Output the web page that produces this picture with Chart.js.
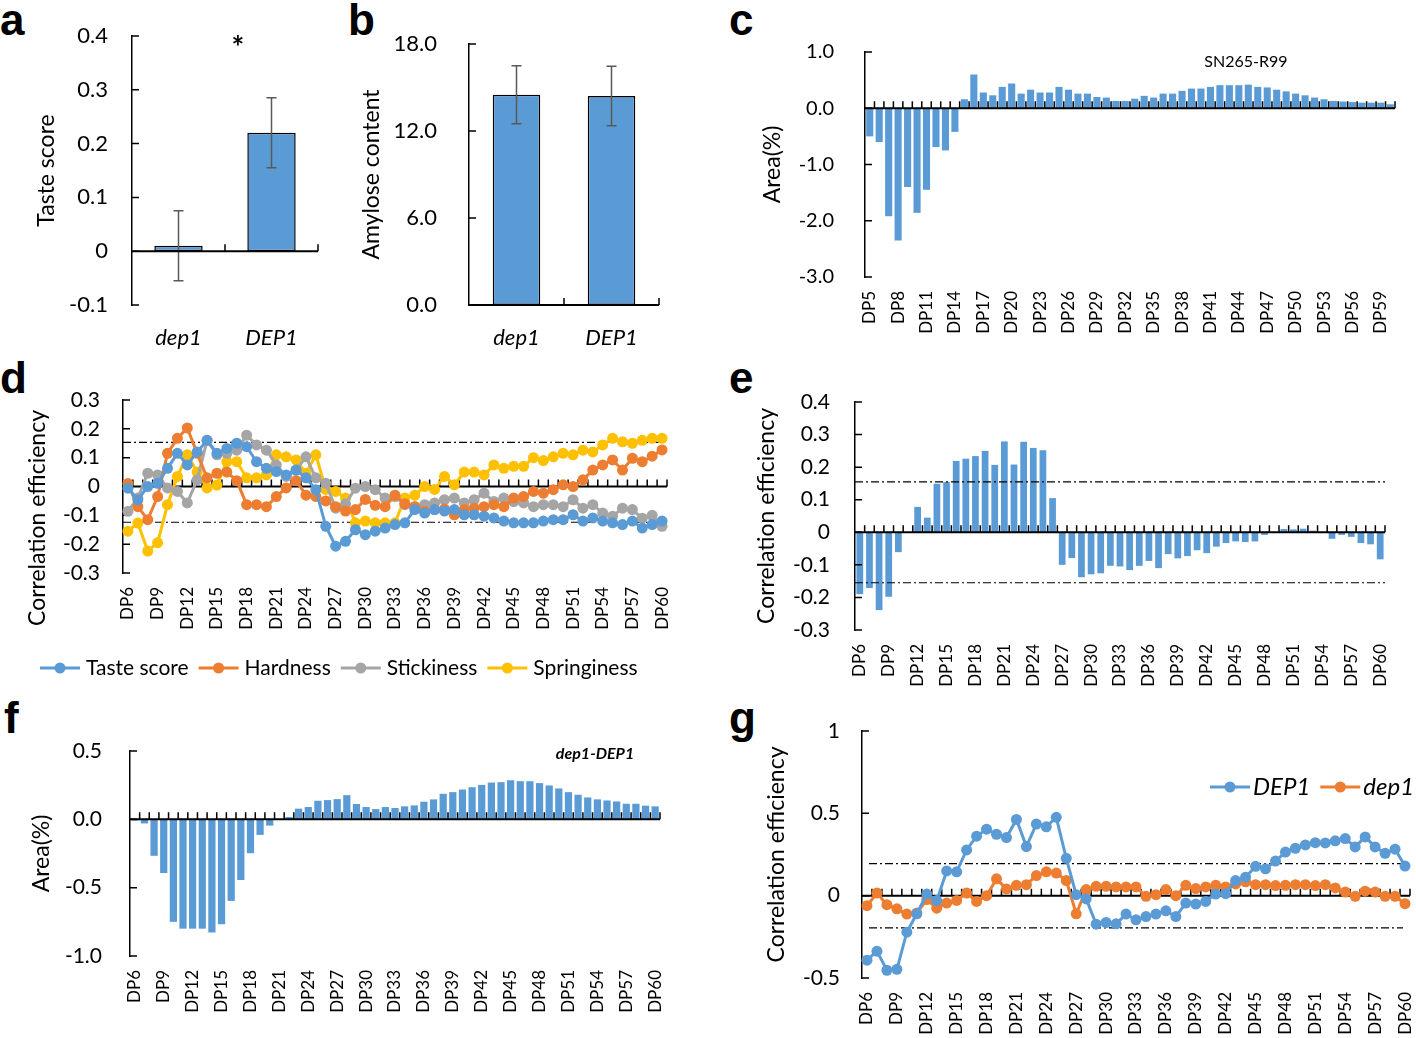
<!DOCTYPE html>
<html>
<head>
<meta charset="utf-8">
<title>dep1 / DEP1 - taste, amylose and correlation panels</title>
<script src="https://cdn.jsdelivr.net/npm/chart.js@4.4.1/dist/chart.umd.min.js"></script>
<style>
  html, body { margin: 0; padding: 0; background: #fff; }
  body { position: relative; width: 1416px; height: 1038px; overflow: hidden;
         font-family: Lato, "Liberation Sans", sans-serif; color: #000; }
  .box { position: absolute; }
  .letter { position: absolute; font: bold 44px "Liberation Sans", Arial, sans-serif; line-height: 44px; }
  .note { position: absolute; white-space: nowrap; transform: translate(-50%, -50%); }
</style>
</head>
<body>

<div class="letter" style="left:0px;top:-2px">a</div>
<div class="letter" style="left:348px;top:-2px">b</div>
<div class="letter" style="left:729px;top:-2px">c</div>
<div class="letter" style="left:0px;top:356px">d</div>
<div class="letter" style="left:729px;top:356px">e</div>
<div class="letter" style="left:4px;top:696px">f</div>
<div class="letter" style="left:729px;top:696px">g</div>

<div class="box" style="left:25px;top:20px;width:310px;height:345px"><canvas id="chartA"></canvas></div>
<div class="box" style="left:355px;top:20px;width:320px;height:345px"><canvas id="chartB"></canvas></div>
<div class="box" style="left:752px;top:35px;width:660px;height:305px"><canvas id="chartC"></canvas></div>
<div class="box" style="left:20px;top:384px;width:660px;height:306px"><canvas id="chartD"></canvas></div>
<div class="box" style="left:745px;top:385px;width:665px;height:305px"><canvas id="chartE"></canvas></div>
<div class="box" style="left:20px;top:730px;width:660px;height:300px"><canvas id="chartF"></canvas></div>
<div class="box" style="left:745px;top:714px;width:671px;height:324px"><canvas id="chartG"></canvas></div>

<div class="note" style="left:238px;top:46px;font-weight:bold;font-size:30px">*</div>
<div class="note" style="left:1246px;top:60px;font-size:16px">SN265-R99</div>
<div class="note" style="left:595px;top:752px;font-size:16px;font-style:italic;font-weight:bold">dep1-DEP1</div>

<script>
/* ---------- datos ---------- */
const groups = ['dep1', 'DEP1'];
const tasteScore = [0.01, 0.22];
const tasteErr = [0.065, 0.065];
const amylose = [14.5, 14.42];
const amyloseErr = [2.0, 2.05];

// categorias DP5..DP60 (panel c) y DP6..DP60 (paneles d-g)
const dpFrom5 = Array.from({ length: 56 }, (_, i) => 'DP' + (i + 5));
const dpFrom6 = Array.from({ length: 55 }, (_, i) => 'DP' + (i + 6));

// panel c: SN265-R99
const areaSN265 = [-0.5, -0.6, -1.92, -2.35, -1.4, -1.86, -1.45, -0.69, -0.75, -0.42,
  0.16, 0.6, 0.28, 0.23, 0.38, 0.44, 0.26, 0.33, 0.28, 0.28,
  0.38, 0.33, 0.26, 0.26, 0.2, 0.19, 0.13, 0.13, 0.17, 0.22,
  0.19, 0.26, 0.26, 0.31, 0.35, 0.35, 0.38, 0.41, 0.41, 0.41,
  0.42, 0.38, 0.37, 0.33, 0.3, 0.26, 0.23, 0.19, 0.16, 0.13,
  0.12, 0.11, 0.1, 0.1, 0.1, 0.07];

// panel d: correlaciones por rasgo
const corrTaste = [-0.006, -0.046, 0, 0.011, 0.063, 0.115, 0.075, 0.12, 0.16, 0.115,
  0.132, 0.15, 0.138, 0.086, 0.063, 0.052, 0.04, 0.057, 0.03, -0.011,
  -0.138, -0.207, -0.19, -0.15, -0.167, -0.155, -0.144, -0.132, -0.126, -0.08,
  -0.092, -0.08, -0.085, -0.08, -0.098, -0.098, -0.103, -0.109, -0.12, -0.126,
  -0.126, -0.126, -0.12, -0.115, -0.115, -0.098, -0.12, -0.109, -0.12, -0.126,
  -0.132, -0.12, -0.144, -0.132, -0.12];
const corrHardness = [0.01, -0.07, -0.115, -0.035, 0.115, 0.167, 0.203, 0.115, 0.03, 0.046,
  0.05, 0.02, -0.063, -0.063, -0.07, -0.035, -0.005, 0.02, -0.03, -0.035,
  -0.05, -0.07, -0.085, -0.08, -0.045, -0.065, -0.07, -0.03, -0.06, -0.07,
  -0.086, -0.08, -0.078, -0.098, -0.08, -0.075, -0.07, -0.063, -0.07, -0.04,
  -0.035, -0.017, -0.023, -0.011, 0.006, 0, 0.023, 0.057, 0.075, 0.092,
  0.057, 0.098, 0.086, 0.105, 0.127];
const corrStickiness = [-0.086, -0.04, 0.046, 0.04, -0.005, -0.017, -0.057, 0.023, 0.16, 0.11,
  0.115, 0.126, 0.178, 0.144, 0.126, 0.075, 0.035, 0.057, 0.103, 0.03,
  0.011, -0.075, -0.06, -0.006, 0, -0.011, -0.04, -0.035, -0.063, -0.07,
  -0.063, -0.057, -0.046, -0.04, -0.057, -0.046, -0.023, -0.052, -0.04, -0.052,
  -0.057, -0.07, -0.063, -0.063, -0.07, -0.046, -0.075, -0.063, -0.092, -0.103,
  -0.075, -0.08, -0.11, -0.1, -0.138];
const corrSpringiness = [-0.155, -0.127, -0.224, -0.195, -0.063, 0.035, 0.11, 0.05, -0.005, 0.005,
  0.086, 0.086, 0.03, 0.03, 0.04, 0.11, 0.103, 0.092, 0.046, 0.11,
  -0.01, -0.017, -0.04, -0.126, -0.12, -0.126, -0.126, -0.126, -0.04, -0.03,
  0, -0.01, 0.035, 0.006, 0.05, 0.05, 0.04, 0.075, 0.063, 0.07,
  0.07, 0.1, 0.09, 0.103, 0.115, 0.11, 0.126, 0.12, 0.144, 0.167,
  0.155, 0.15, 0.16, 0.167, 0.167];
const thresholdD = [0.153, -0.124];

// panel e
const corrE = [-0.19, -0.171, -0.239, -0.198, -0.061, 0, 0.078, 0.045, 0.149, 0.154,
  0.219, 0.226, 0.234, 0.25, 0.207, 0.279, 0.208, 0.278, 0.259, 0.252,
  0.105, -0.1, -0.079, -0.138, -0.129, -0.126, -0.103, -0.105, -0.116, -0.103,
  -0.088, -0.11, -0.067, -0.08, -0.073, -0.055, -0.064, -0.044, -0.033, -0.028,
  -0.03, -0.028, -0.008, 0, 0.01, 0.009, 0.011, 0.005, 0, -0.02,
  -0.008, -0.014, -0.033, -0.037, -0.083];
const thresholdE = [0.155, -0.155];

// panel f: dep1-DEP1
const areaDiff = [-0.01, -0.03, -0.267, -0.393, -0.75, -0.8, -0.8, -0.8, -0.828, -0.767,
  -0.597, -0.444, -0.248, -0.114, -0.046, 0, 0.017, 0.078, 0.09, 0.136,
  0.141, 0.148, 0.177, 0.112, 0.09, 0.075, 0.09, 0.083, 0.095, 0.102,
  0.129, 0.146, 0.187, 0.199, 0.218, 0.235, 0.252, 0.269, 0.272, 0.286,
  0.279, 0.279, 0.265, 0.248, 0.226, 0.199, 0.18, 0.16, 0.146, 0.138,
  0.131, 0.114, 0.114, 0.1, 0.095];

// panel g
const corrDEP1 = [-0.392, -0.337, -0.453, -0.447, -0.222, -0.11, 0.01, -0.03, 0.15, 0.145,
  0.278, 0.361, 0.404, 0.373, 0.353, 0.463, 0.298, 0.435, 0.418, 0.476,
  0.227, 0.006, -0.02, -0.173, -0.163, -0.171, -0.112, -0.147, -0.127, -0.112,
  -0.092, -0.127, -0.045, -0.051, -0.035, 0.01, 0.012, 0.092, 0.112, 0.178,
  0.163, 0.21, 0.265, 0.288, 0.308, 0.322, 0.32, 0.333, 0.347, 0.296,
  0.357, 0.296, 0.257, 0.282, 0.18];
const corrDep1 = [-0.061, 0.016, -0.055, -0.08, -0.112, -0.106, -0.024, -0.076, -0.045, -0.029,
  0.016, -0.035, 0, 0.102, 0.041, 0.063, 0.067, 0.122, 0.145, 0.137,
  0.092, -0.11, 0.037, 0.057, 0.057, 0.053, 0.053, 0.053, -0.004, 0.006,
  0.037, 0, 0.063, 0.043, 0.053, 0.063, 0.053, 0.071, 0.084, 0.067,
  0.067, 0.061, 0.063, 0.067, 0.067, 0.061, 0.067, 0.047, 0.022, -0.004,
  0.027, 0.022, -0.004, -0.004, -0.049];
const thresholdG = [0.195, -0.195];

/* ---------- estilo ---------- */
const FONT = 'Lato, "Liberation Sans", sans-serif';
const BLUE = '#5B9BD5', ORANGE = '#ED7D31', GRAY = '#A5A5A5', GOLD = '#FFC000';
Chart.defaults.font.family = FONT;
Chart.defaults.color = '#000';

// Eje en cero, marcas hacia dentro y lineas de umbral
function drawAxes(chart, o) {
  const { ctx, chartArea: a, scales: { x, y } } = chart;
  ctx.save();
  (o.refLines || []).forEach(v => {
    const py = y.getPixelForValue(v);
    ctx.setLineDash([8, 3, 2, 3]);
    ctx.lineWidth = 1.2;
    ctx.strokeStyle = '#000';
    ctx.beginPath();
    ctx.moveTo(a.left + (o.refInset || 0), py);
    ctx.lineTo(a.right - (o.refInset || 0), py);
    ctx.stroke();
  });
  ctx.setLineDash([]);
  const y0 = y.getPixelForValue(0);
  const n = chart.data.labels.length;
  ctx.strokeStyle = '#000';
  ctx.lineWidth = 2;
  ctx.beginPath();
  ctx.moveTo(a.left, y0);
  ctx.lineTo(a.right, y0);
  ctx.stroke();
  ctx.lineWidth = 1.5;
  ctx.beginPath();
  for (let i = 1; i <= n; i++) {
    const bx = i < n ? (x.getPixelForValue(i - 1) + x.getPixelForValue(i)) / 2 : a.right;
    ctx.moveTo(bx, y0);
    ctx.lineTo(bx, y0 - 7);
  }
  y.ticks.forEach((t, i) => {
    const py = y.getPixelForTick(i);
    ctx.moveTo(a.left, py);
    ctx.lineTo(a.left + 7, py);
  });
  ctx.stroke();
  ctx.restore();
}

const deco = {
  id: 'deco',
  beforeDatasetsDraw(chart, args, o) {
    if (o.under) drawAxes(chart, o);
  },
  afterDatasetsDraw(chart, args, o) {
    const { ctx, scales: { y } } = chart;
    // barras de error
    chart.data.datasets.forEach((ds, di) => {
      if (!ds.errors) return;
      chart.getDatasetMeta(di).data.forEach((bar, i) => {
        const top = y.getPixelForValue(ds.data[i] + ds.errors[i]);
        const bot = y.getPixelForValue(ds.data[i] - ds.errors[i]);
        ctx.save();
        ctx.strokeStyle = '#595959';
        ctx.lineWidth = 1.5;
        ctx.beginPath();
        ctx.moveTo(bar.x, top); ctx.lineTo(bar.x, bot);
        ctx.moveTo(bar.x - 5, top); ctx.lineTo(bar.x + 5, top);
        ctx.moveTo(bar.x - 5, bot); ctx.lineTo(bar.x + 5, bot);
        ctx.stroke();
        ctx.restore();
      });
    });
    if (!o.under) drawAxes(chart, o);
  },
  afterDraw(chart, args, o) {
    const ctx = chart.ctx;
    // titulo del eje y dibujado a mano (panel d)
    if (o.yTitle) {
      ctx.save();
      ctx.translate(o.yTitle.x, o.yTitle.y);
      ctx.rotate(-Math.PI / 2);
      ctx.font = o.yTitle.size + 'px ' + FONT;
      ctx.textAlign = 'center';
      ctx.textBaseline = 'middle';
      ctx.fillStyle = '#000';
      ctx.fillText(o.yTitle.text, 0, 0);
      ctx.restore();
    }
    // leyenda con linea y marcador
    const lg = o.legend;
    if (!lg) return;
    ctx.save();
    ctx.font = (lg.italic ? 'italic ' : '') + lg.size + 'px ' + FONT;
    ctx.textBaseline = 'middle';
    let lx = lg.x;
    chart.data.datasets.forEach(ds => {
      ctx.strokeStyle = ds.borderColor;
      ctx.lineWidth = 3;
      ctx.beginPath();
      ctx.moveTo(lx, lg.y); ctx.lineTo(lx + lg.sym, lg.y);
      ctx.stroke();
      ctx.fillStyle = ds.borderColor;
      ctx.beginPath();
      ctx.arc(lx + lg.sym / 2, lg.y, 5.5, 0, Math.PI * 2);
      ctx.fill();
      ctx.fillStyle = '#000';
      ctx.fillText(ds.label, lx + lg.sym + lg.textGap, lg.y);
      lx += lg.sym + lg.textGap + ctx.measureText(ds.label).width + lg.gap;
    });
    ctx.restore();
  }
};
Chart.register(deco);

// etiquetas DP cada 3 categorias, giradas
function dpTicks() {
  return {
    autoSkip: false, minRotation: 90, maxRotation: 90, padding: 3,
    font: { size: 17 }, color: '#000',
    callback: function (v, i) { return i % 3 === 0 ? this.getLabelForValue(v) : ''; }
  };
}

// la separacion de las etiquetas va en tickLength (marcas ocultas);
// se anulan los paddings automaticos de las escalas para fijar el area del grafico
function panelOptions(p) {
  return {
    responsive: true, maintainAspectRatio: false, animation: false,
    layout: { autoPadding: false, padding: { top: p.padTop, right: p.padRight, left: 0, bottom: 0 } },
    plugins: { legend: { display: false }, tooltip: { enabled: false }, deco: p.deco || {} },
    scales: {
      x: {
        offset: true,
        grid: { display: false, drawTicks: true, tickLength: (p.xPad || 14) - 3 },
        border: { display: false },
        ticks: p.xTicks || dpTicks(),
        afterFit: s => { s.height = p.xHeight; s.paddingLeft = 0; s.paddingRight = 0; }
      },
      y: {
        min: p.yMin, max: p.yMax,
        grid: { display: false, drawTicks: true, tickLength: p.yPad - 3 },
        border: { display: true, color: '#000', width: 1.5 },
        ticks: { stepSize: p.step, padding: 3, autoSkip: false, font: { size: p.tickSize || 21 }, color: '#000',
                 callback: p.yFmt || (v => +v.toFixed(2) + '') },
        title: { display: !!p.yTitle, text: p.yTitle, font: { size: 23 }, color: '#000',
                 padding: { top: p.titlePad || 4, bottom: 0 } },
        afterFit: s => { s.width = p.yWidth; s.paddingTop = 0; s.paddingBottom = 0; }
      }
    }
  };
}

function barSet(values, pct) {
  return { data: values, backgroundColor: BLUE, borderWidth: 0,
           barPercentage: pct, categoryPercentage: 1 };
}
function lineSet(label, values, color, r) {
  return { label: label, data: values, borderColor: color, backgroundColor: color,
           borderWidth: 3, pointRadius: r, pointBorderWidth: 0, tension: 0 };
}
const groupTicks = { padding: 3, font: { size: 22, style: 'italic' }, color: '#000' };

/* ---------- a: taste score ---------- */
new Chart(document.getElementById('chartA'), {
  type: 'bar',
  data: { labels: groups, datasets: [{ data: tasteScore, errors: tasteErr, backgroundColor: BLUE,
          borderColor: '#000', borderWidth: 1.5, borderSkipped: false,
          barPercentage: 0.52, categoryPercentage: 1 }] },
  options: panelOptions({ padTop: 16, padRight: 17, yWidth: 107, xHeight: 60, xPad: 20,
    yMin: -0.1, yMax: 0.4, step: 0.1, yPad: 24, tickSize: 22, yTitle: 'Taste score', titlePad: 8,
    xTicks: groupTicks })
});

/* ---------- b: amylose ---------- */
new Chart(document.getElementById('chartB'), {
  type: 'bar',
  data: { labels: groups, datasets: [{ data: amylose, errors: amyloseErr, backgroundColor: BLUE,
          borderColor: '#000', borderWidth: 1.5, borderSkipped: false,
          barPercentage: 0.5, categoryPercentage: 1 }] },
  options: panelOptions({ padTop: 24, padRight: 16, yWidth: 114, xHeight: 60, xPad: 20,
    yMin: 0, yMax: 18, step: 6, yPad: 32, tickSize: 22, yFmt: v => v.toFixed(1),
    yTitle: 'Amylose content', titlePad: 3, xTicks: groupTicks })
});

/* ---------- c: SN265-R99 ---------- */
new Chart(document.getElementById('chartC'), {
  type: 'bar',
  data: { labels: dpFrom5, datasets: [barSet(areaSN265, 0.75)] },
  options: panelOptions({ padTop: 17, padRight: 17, yWidth: 113, xHeight: 63,
    yMin: -3, yMax: 1, step: 1, yPad: 31, tickSize: 20, yFmt: v => v.toFixed(1),
    yTitle: 'Area(%)', titlePad: 7 })
});

/* ---------- d: correlacion por rasgo ---------- */
new Chart(document.getElementById('chartD'), {
  type: 'line',
  data: { labels: dpFrom6, datasets: [
    lineSet('Taste score', corrTaste, BLUE, 5.5),
    lineSet('Hardness', corrHardness, ORANGE, 5.5),
    lineSet('Stickiness', corrStickiness, GRAY, 5.5),
    lineSet('Springiness', corrSpringiness, GOLD, 5.5)
  ] },
  options: panelOptions({ padTop: 16, padRight: 13, yWidth: 103, xHeight: 117,
    yMin: -0.3, yMax: 0.3, step: 0.1, yPad: 23,
    deco: { under: true, refLines: thresholdD,
            yTitle: { text: 'Correlation efficiency', x: 18, y: 134, size: 23 },
            legend: { x: 20, y: 284, sym: 40, textGap: 6, gap: 10, size: 21 } } })
});

/* ---------- e ---------- */
new Chart(document.getElementById('chartE'), {
  type: 'bar',
  data: { labels: dpFrom6, datasets: [barSet(corrE, 0.7)] },
  options: panelOptions({ padTop: 17, padRight: 25, yWidth: 110, xHeight: 60,
    yMin: -0.3, yMax: 0.4, step: 0.1, yPad: 25,
    yTitle: 'Correlation efficiency', titlePad: 8,
    deco: { refLines: thresholdE } })
});

/* ---------- f: dep1-DEP1 ---------- */
new Chart(document.getElementById('chartF'), {
  type: 'bar',
  data: { labels: dpFrom6, datasets: [barSet(areaDiff, 0.75)] },
  options: panelOptions({ padTop: 21, padRight: 20, yWidth: 110, xHeight: 74,
    yMin: -1, yMax: 0.5, step: 0.5, yPad: 28, yFmt: v => v.toFixed(1),
    yTitle: 'Area(%)', titlePad: 8 })
});

/* ---------- g: DEP1 vs dep1 ---------- */
new Chart(document.getElementById('chartG'), {
  type: 'line',
  data: { labels: dpFrom6, datasets: [
    lineSet('DEP1', corrDEP1, BLUE, 5.5),
    lineSet('dep1', corrDep1, ORANGE, 5.5)
  ] },
  options: panelOptions({ padTop: 17, padRight: 6, yWidth: 117, xHeight: 60,
    yMin: -0.5, yMax: 1, step: 0.5, yPad: 22,
    yTitle: 'Correlation efficiency', titlePad: 18,
    deco: { under: true, refLines: thresholdG, refInset: 7,
            legend: { x: 465, y: 73, sym: 40, textGap: 3, gap: 10, size: 24, italic: true } } })
});
</script>
</body>
</html>
